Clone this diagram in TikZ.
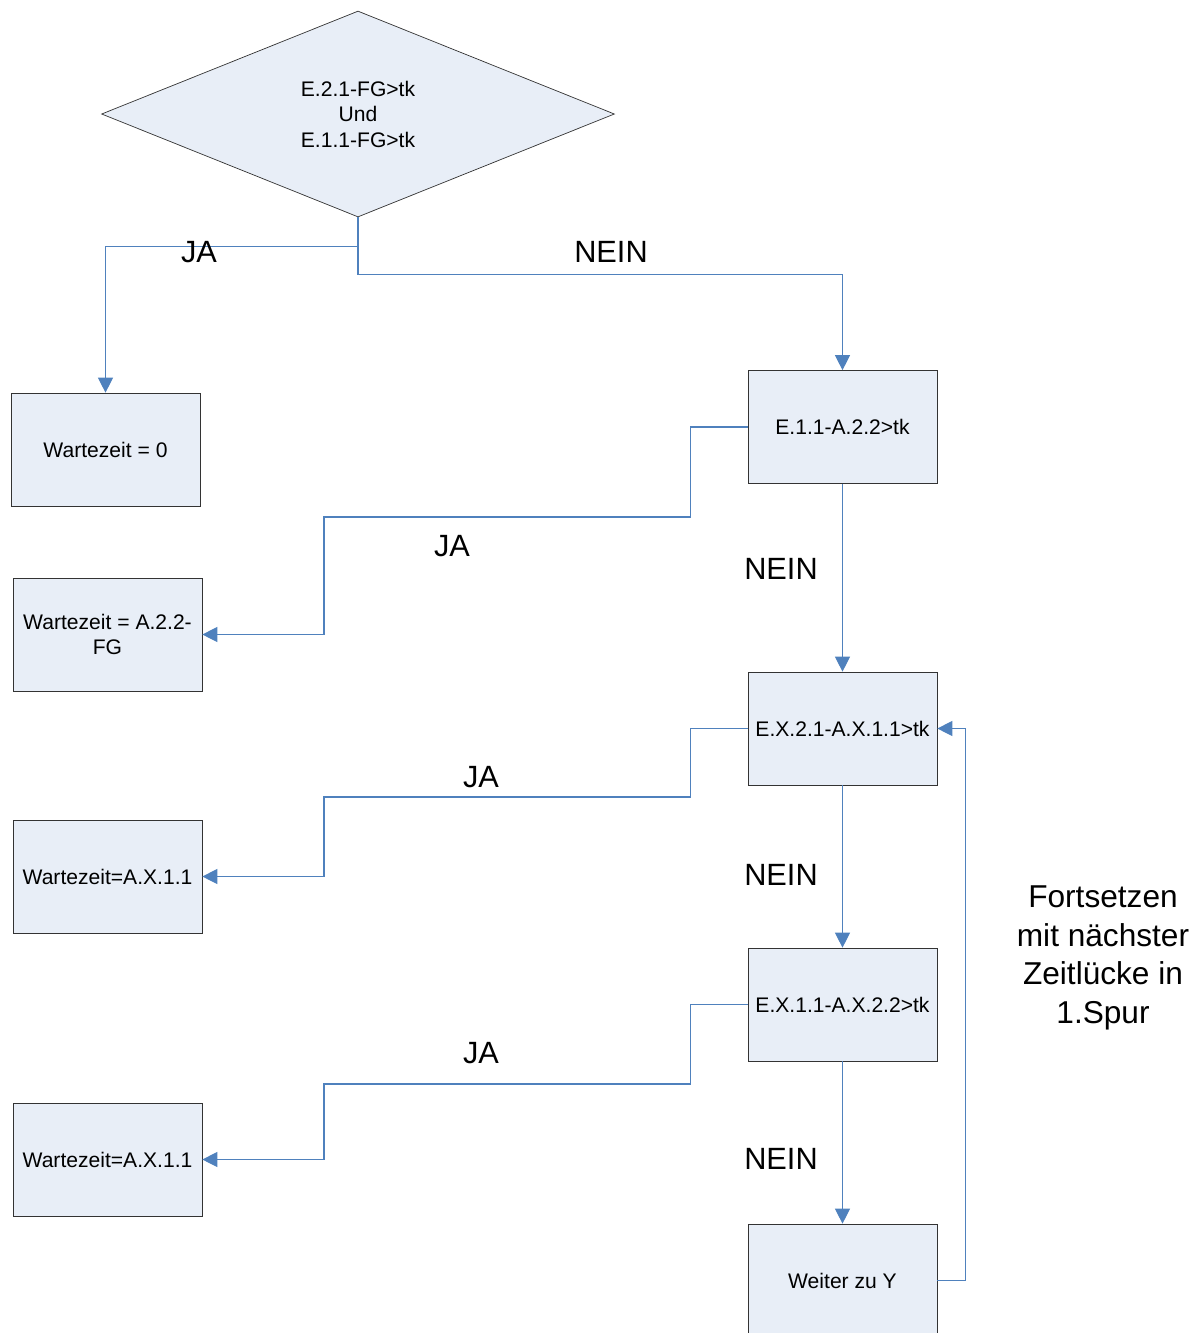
\documentclass[tikz,border=0pt]{standalone}
\usepackage{fontspec}
\setmainfont{Liberation Sans}
\usetikzlibrary{shapes.geometric,arrows.meta}

\definecolor{boxfill}{RGB}{232,238,247}
\definecolor{linkblue}{RGB}{79,129,189}

\tikzset{
  box/.style={draw=black!80, fill=boxfill, minimum width=3.78cm, minimum height=2.26cm, align=center, font=\fontsize{12}{14.2}\selectfont, inner sep=1pt},
  conn/.style={draw=linkblue, line width=0.6pt, -{Triangle[width=8.5pt,length=8.5pt]}},
  lbl/.style={font=\fontsize{17.5}{21}\selectfont}
}

\begin{document}
\begin{tikzpicture}[x=0.02cm,y=-0.02cm]
\useasboundingbox (0,0) rectangle (1200,1333);

% Decision
\node[diamond, draw=black!80, fill=boxfill, minimum width=10.26cm, minimum height=4.12cm, inner sep=0pt, align=center, font=\fontsize{12}{14.5}\selectfont] (dec) at (358,114) {E.2.1-FG>tk\\Und\\E.1.1-FG>tk};

% Boxes
\node[box] (w0) at (105.5,449.5) {Wartezeit = 0};
\node[box] (q1) at (842.5,427) {E.1.1-A.2.2>tk};
\node[box] (w1) at (107.5,634.5) {Wartezeit = A.2.2-\\FG};
\node[box] (q2) at (842.5,728.5) {E.X.2.1-A.X.1.1>tk};
\node[box] (w2) at (107.5,876.5) {Wartezeit=A.X.1.1};
\node[box] (q3) at (842.5,1004.5) {E.X.1.1-A.X.2.2>tk};
\node[box] (w3) at (107.5,1159.5) {Wartezeit=A.X.1.1};
\node[box] (q4) at (842.5,1280.5) {Weiter zu Y};

% Connectors
\draw[conn] (dec.south) -- ++(0,29) -| (w0.north);
\draw[conn] (dec.south) -- ++(0,57) -| (q1.north);
\draw[conn] (q1.west) -- ++(-57,0) |- (324,517) |- (w1.east);
\draw[conn] (q1.south) -- (q2.north);
\draw[conn] (q2.west) -- ++(-57,0) |- (324,797) |- (w2.east);
\draw[conn] (q2.south) -- (q3.north);
\draw[conn] (q3.west) -- ++(-57,0) |- (324,1084) |- (w3.east);
\draw[conn] (q3.south) -- (q4.north);
\draw[conn] (q4.east) -- ++(28,0) |- (q2.east);

% Labels
\node[lbl] (ja0) at (199,252) {JA};
\node[lbl] (nein0) at (611,252) {NEIN};
\node[lbl] (ja1) at (452,546) {JA};
\node[lbl] (nein1) at (781,569) {NEIN};
\node[lbl] (ja2) at (481,777) {JA};
\node[lbl] (nein2) at (781,875) {NEIN};
\node[lbl] (ja3) at (481,1053) {JA};
\node[lbl] (nein3) at (781,1159) {NEIN};
\node[lbl, align=center, font=\fontsize{18}{22}\selectfont] (cont) at (1103,958) {Fortsetzen\\mit nächster\\Zeitlücke in\\1.Spur};
\end{tikzpicture}
\end{document}
